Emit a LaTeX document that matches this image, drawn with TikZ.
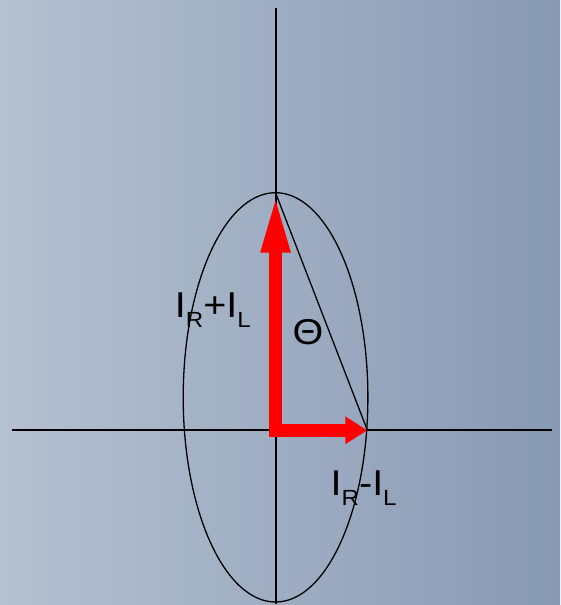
\documentclass[tikz,border=0pt]{standalone}
\usepackage{fontspec}
\setmainfont{Liberation Sans}[FakeStretch=1.1]
\usetikzlibrary{arrows.meta}
\definecolor{bgleft}{RGB}{181,193,208}
\definecolor{bgright}{RGB}{136,153,180}
\newcommand{\cur}[1]{I\raisebox{-10.5pt}{\fontsize{22}{24}\selectfont #1}}

\begin{document}
\begin{tikzpicture}[x=1pt,y=-1pt,
  axis/.style={line width=2pt},
  curve/.style={line width=1.3pt},
  vec/.style={red,line width=13pt},
  lbl/.style={inner sep=0pt,anchor=base west,font=\fontsize{36}{40}\selectfont}]
  \shade[left color=bgleft,right color=bgright] (0,0) rectangle (561,605);
  % axes
  \coordinate (O) at (276,431);
  \coordinate (xl) at (12,431);
  \coordinate (xr) at (553,431);
  \coordinate (yt) at (276,8);
  \coordinate (yb) at (276,605);
  \draw[axis] (xl) -- (xr);
  \draw[axis] (yt) -- (yb);
  % ellipse and vectors
  \coordinate (C) at (276,398);
  \coordinate (T) at (276,193);
  \coordinate (R) at (368,431);
  \coordinate (Ob) at (276,437.5);
  \coordinate (Ol) at (269.5,431);
  \draw[curve] (C) ellipse [x radius=92.5,y radius=205];
  \draw[vec,-{Triangle[length=60pt,width=26pt]}] (Ob) -- (T);
  \draw[vec,-{Triangle[length=22pt,width=26pt]}] (Ol) -- (R);
  \draw[curve] (T) -- (R);
  \node[lbl] (sum) at (175,318) {\cur{R}+\cur{L}};
  \node[lbl] (theta) at (293,345) {Θ};
  \node[lbl] (diff) at (331,496) {\cur{R}-\cur{L}};
\end{tikzpicture}
\end{document}
